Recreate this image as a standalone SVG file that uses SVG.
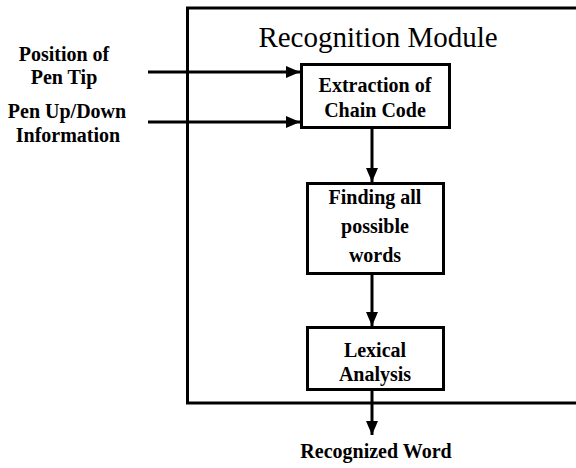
<svg xmlns="http://www.w3.org/2000/svg" width="576" height="468" viewBox="0 0 576 468">
  <style>
    .box { fill: #fff; stroke: #000; stroke-width: 3; }
    .frame { fill: none; stroke: #000; stroke-width: 3; }
    .wire { fill: none; stroke: #000; stroke-width: 3; }
    .lbl { font-family: "Liberation Serif", "Times New Roman", serif; font-weight: bold; font-size: 20px; fill: #000; text-anchor: middle; }
    .title { font-family: "Liberation Serif", "Times New Roman", serif; font-size: 29px; fill: #000; text-anchor: middle; }
  </style>
  <defs>
    <marker id="head" viewBox="0 0 14 12" refX="14" refY="6" markerWidth="14" markerHeight="12" markerUnits="userSpaceOnUse" orient="auto">
      <path d="M0,0 L14,6 L0,12 Z" fill="#000"/>
    </marker>
  </defs>
  <rect width="576" height="468" fill="#fff"/>

  <!-- module frame (open to the right) -->
  <g id="module">
    <path class="frame" d="M580,8 H187.5 V403 H580"/>
    <text class="title" x="378" y="47">Recognition Module</text>
  </g>

  <!-- external inputs -->
  <g id="in-pen-tip">
    <text class="lbl" x="64" y="61">Position of</text>
    <text class="lbl" x="64" y="84">Pen Tip</text>
  </g>
  <g id="in-pen-updown">
    <text class="lbl" x="67" y="118">Pen Up/Down</text>
    <text class="lbl" x="68" y="142">Information</text>
  </g>

  <!-- processing stages -->
  <g id="extraction">
    <rect class="box" x="301.5" y="64.5" width="148" height="63"/>
    <text class="lbl" x="375" y="92">Extraction of</text>
    <text class="lbl" x="375" y="117">Chain Code</text>
  </g>
  <g id="finding">
    <rect class="box" x="307.5" y="183.5" width="136" height="90"/>
    <text class="lbl" x="375" y="204">Finding all</text>
    <text class="lbl" x="375" y="233">possible</text>
    <text class="lbl" x="375" y="262">words</text>
  </g>
  <g id="lexical">
    <rect class="box" x="307.5" y="327.5" width="136" height="62"/>
    <text class="lbl" x="375" y="357">Lexical</text>
    <text class="lbl" x="375" y="381">Analysis</text>
  </g>

  <!-- output -->
  <g id="out-word">
    <text class="lbl" x="376" y="458">Recognized Word</text>
  </g>

  <!-- connectors -->
  <g id="connectors">
    <line class="wire" x1="148" y1="72" x2="300" y2="72" marker-end="url(#head)"/>
    <line class="wire" x1="148" y1="122" x2="300" y2="122" marker-end="url(#head)"/>
    <line class="wire" x1="372" y1="129" x2="372" y2="182" marker-end="url(#head)"/>
    <line class="wire" x1="372" y1="275" x2="372" y2="326" marker-end="url(#head)"/>
    <line class="wire" x1="372" y1="391" x2="372" y2="435" marker-end="url(#head)"/>
  </g>
</svg>
